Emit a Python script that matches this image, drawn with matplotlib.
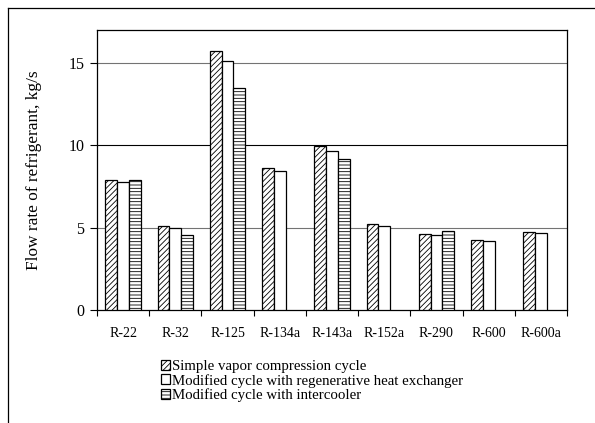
import numpy as np
import matplotlib.pyplot as plt
from matplotlib.lines import Line2D

plt.rcParams.update({
    "font.family": ["Liberation Serif", "DejaVu Serif"],
    "font.size": 9.5,
    "hatch.linewidth": 0.6,
})

refrigerants = ['R-22', 'R-32', 'R-125', 'R-134a', 'R-143a', 'R-152a', 'R-290', 'R-600', 'R-600a']
simple = [7.9, 5.12, 15.75, 8.64, 9.98, 5.2, 4.6, 4.27, 4.74]
regenerative = [7.75, 4.98, 15.1, 8.42, 9.67, 5.12, 4.53, 4.19, 4.66]
intercooler = [7.9, 4.53, 13.5, np.nan, 9.19, np.nan, 4.8, np.nan, np.nan]
labels = ['Simple vapor compression cycle',
          'Modified cycle with regenerative heat exchanger',
          'Modified cycle with intercooler']

fig = plt.figure(figsize=(5.95, 4.23), dpi=100)
ax = fig.add_axes([97/595, 1-310/423, 470/595, 280/423])

x = np.arange(len(refrigerants))
w = 0.225
hatches = ['//////', '', '-----']
for i, (vals, h, lab) in enumerate(zip([simple, regenerative, intercooler], hatches, labels)):
    ax.bar(x + (i-1)*w, vals, w, color='white', edgecolor='black', hatch=h,
           linewidth=0.9, label=lab, zorder=3)

ax.set_xlim(-0.5, len(refrigerants) - 0.5)
ax.set_ylim(0, 17)
ax.set_yticks([0, 5, 10, 15])
ax.set_xticks(x)
ax.set_xticklabels(refrigerants, fontsize=10)
ax.set_xticks(np.arange(-0.5, len(refrigerants)), minor=True)
ax.tick_params(axis='x', which='major', length=0, pad=12)
ax.tick_params(axis='x', which='minor', length=4, width=0.8, direction='out')
ax.tick_params(axis='y', length=5, width=0.8, direction='out', pad=4, labelsize=11.5)
for y, c in [(5, '0.45'), (10, 'black'), (15, '0.45')]:
    ax.axhline(y, color=c, linewidth=0.8, zorder=1)
for s in ax.spines.values():
    s.set_linewidth(0.9)
ax.set_ylabel('Flow rate of refrigerant, kg/s', fontsize=12.4, labelpad=19)

fig.legend(loc='upper left', bbox_to_anchor=(155/595, 1-354/423), frameon=False,
           handlelength=0.62, handleheight=0.62, handletextpad=0.15, labelspacing=0.05,
           borderaxespad=0, fontsize=10.7)

# outer frame lines (left and top only)
fig.add_artist(Line2D([8/595, 8/595], [0, 1-8/423], color='black', linewidth=0.9, transform=fig.transFigure))
fig.add_artist(Line2D([8/595, 1], [1-8/423, 1-8/423], color='black', linewidth=0.9, transform=fig.transFigure))

plt.savefig('out.png', dpi=100)
plt.close()
